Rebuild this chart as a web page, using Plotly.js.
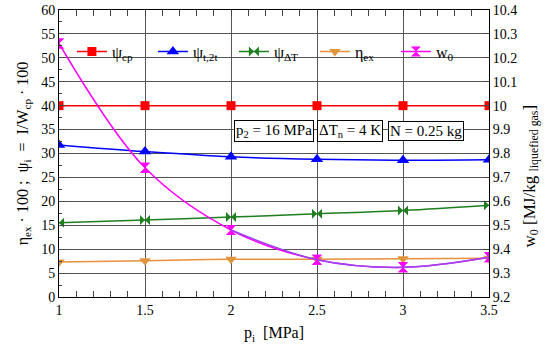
<!DOCTYPE html>
<html>
<head>
<meta charset="utf-8">
<script src="https://cdn.plot.ly/plotly-3.0.1.min.js"></script>
<style>html,body{margin:0;padding:0;background:#fff;}#chart{width:550px;height:350px;}</style>
</head>
<body>
<div id="chart"></div>
<script>
// Data
var pI = [1, 1.5, 2, 2.5, 3, 3.5];
var psiCp = [40, 40, 40, 40, 40, 40];
var psiT2t = [31.8, 30.4, 29.3, 28.8, 28.6, 28.7];
var psiDT = [15.5, 16.1, 16.7, 17.4, 18.1, 19.2];
var etaEx = [7.3, 7.6, 7.9, 7.9, 8.0, 8.1];
var w0 = [10.26, 9.74, 9.48, 9.356, 9.324, 9.366];
var w0LowerIdx = [2, 3, 4, 5];

var font = "Liberation Serif";

var traces = [
  {x: pI, y: psiCp, name: 'ψ<sub>cp</sub>', mode: 'lines+markers', line: {color: '#ff0000', width: 1.5, shape: 'spline'},
   marker: {symbol: 'square', size: 9, color: '#ff0000'}},
  {x: pI, y: psiT2t, name: 'ψ<sub>t,2t</sub>', mode: 'lines+markers', line: {color: '#0000ff', width: 1.5, shape: 'spline'},
   marker: {symbol: 'triangle-up', size: 11, color: '#0000ff'}},
  {x: pI, y: psiDT, name: 'ψ<sub>ΔT</sub>', mode: 'lines+markers', line: {color: '#1e7f1e', width: 1.5, shape: 'spline'},
   marker: {symbol: 'bowtie', size: 10, color: '#1e7f1e'}},
  {x: pI, y: etaEx, name: 'η<sub>ex</sub>', mode: 'lines+markers', line: {color: '#e8903a', width: 1.5, shape: 'spline'},
   marker: {symbol: 'triangle-down', size: 10, color: '#e0943c'}},
  {x: pI, y: w0, name: 'w<sub>0</sub>', yaxis: 'y2', mode: 'lines+markers', line: {color: '#ff00ff', width: 1.5, shape: 'spline'},
   marker: {symbol: 'hourglass', size: 10, color: '#ff00ff'}},
  {x: w0LowerIdx.map(function(i){return pI[i];}), y: w0LowerIdx.map(function(i){return w0[i];}), yaxis: 'y2', mode: 'lines',
   showlegend: false, line: {color: '#9944ee', width: 1.5, shape: 'spline'}},
  {x: pI, y: w0, yaxis: 'y2', mode: 'markers', showlegend: false,
   marker: {symbol: 'hourglass', size: 10, color: '#ff00ff'}}
];

var layout = {
  width: 550, height: 350,
  margin: {l: 59, r: 61, t: 10, b: 53},
  paper_bgcolor: '#fff', plot_bgcolor: '#fff',
  font: {family: font, size: 14, color: '#000'},
  showlegend: true,
  legend: {orientation: 'h', x: 0.03, y: 0.855, xanchor: 'left', yanchor: 'middle',
    bgcolor: 'rgba(255,255,255,0)', font: {family: font, size: 16, color: '#000'},
    entrywidth: 36, tracegroupgap: 0, itemwidth: 30},
  xaxis: {range: [1, 3.5], dtick: 0.5, tick0: 1, showgrid: true, gridcolor: '#555', gridwidth: 1,
    showline: true, linecolor: '#000', linewidth: 1, mirror: 'allticks', ticks: 'inside', ticklen: 6,
    minor: {ticks: 'inside', ticklen: 3, dtick: 0.1, tick0: 1, showgrid: false},
    zeroline: false, tickfont: {family: font, size: 14},
    title: {text: 'p<sub>i</sub>  [MPa]', font: {family: font, size: 16}, standoff: 10}},
  yaxis: {range: [0, 60], dtick: 5, showgrid: true, gridcolor: '#555', gridwidth: 1,
    showline: true, linecolor: '#000', linewidth: 1, ticks: 'inside', ticklen: 6,
    minor: {ticks: 'inside', ticklen: 3, dtick: 2.5, showgrid: false},
    zeroline: false, tickfont: {family: font, size: 14},
    title: {text: 'η<sub>ex</sub> · 100 ;  ψ<sub>i</sub>  =  I/W<sub>cp</sub> · 100', font: {family: font, size: 16}, standoff: 8}},
  yaxis2: {range: [9.2, 10.4], dtick: 0.1, overlaying: 'y', side: 'right', showgrid: false,
    showline: true, linecolor: '#000', linewidth: 1, ticks: 'inside', ticklen: 6, zeroline: false,
    tickfont: {family: font, size: 14}},
  annotations: [
    {xref: 'paper', yref: 'paper', x: 1, y: 0.42, xshift: 42, textangle: -90, xanchor: 'center', yanchor: 'middle',
     text: 'w<sub>0</sub> [MJ/kg <sub>liquefied gas</sub>]', showarrow: false, font: {family: font, size: 17}},
    {xref: 'x', yref: 'y', x: 2.25, y: 34.7, text: 'p<sub>2</sub> = 16 MPa', showarrow: false,
     bordercolor: '#000', borderwidth: 1, bgcolor: '#fff', borderpad: 1, font: {family: font, size: 15}},
    {xref: 'x', yref: 'y', x: 2.69, y: 34.7, text: 'ΔT<sub>n</sub> = 4 K', showarrow: false,
     bordercolor: '#000', borderwidth: 1, bgcolor: '#fff', borderpad: 1, font: {family: font, size: 15}},
    {xref: 'x', yref: 'y', x: 3.135, y: 34.7, text: 'N = 0.25 kg', showarrow: false,
     bordercolor: '#000', borderwidth: 1, bgcolor: '#fff', borderpad: 1, font: {family: font, size: 15}}
  ]
};

Plotly.newPlot('chart', traces, layout, {displayModeBar: false, staticPlot: true});
</script>
</body>
</html>
